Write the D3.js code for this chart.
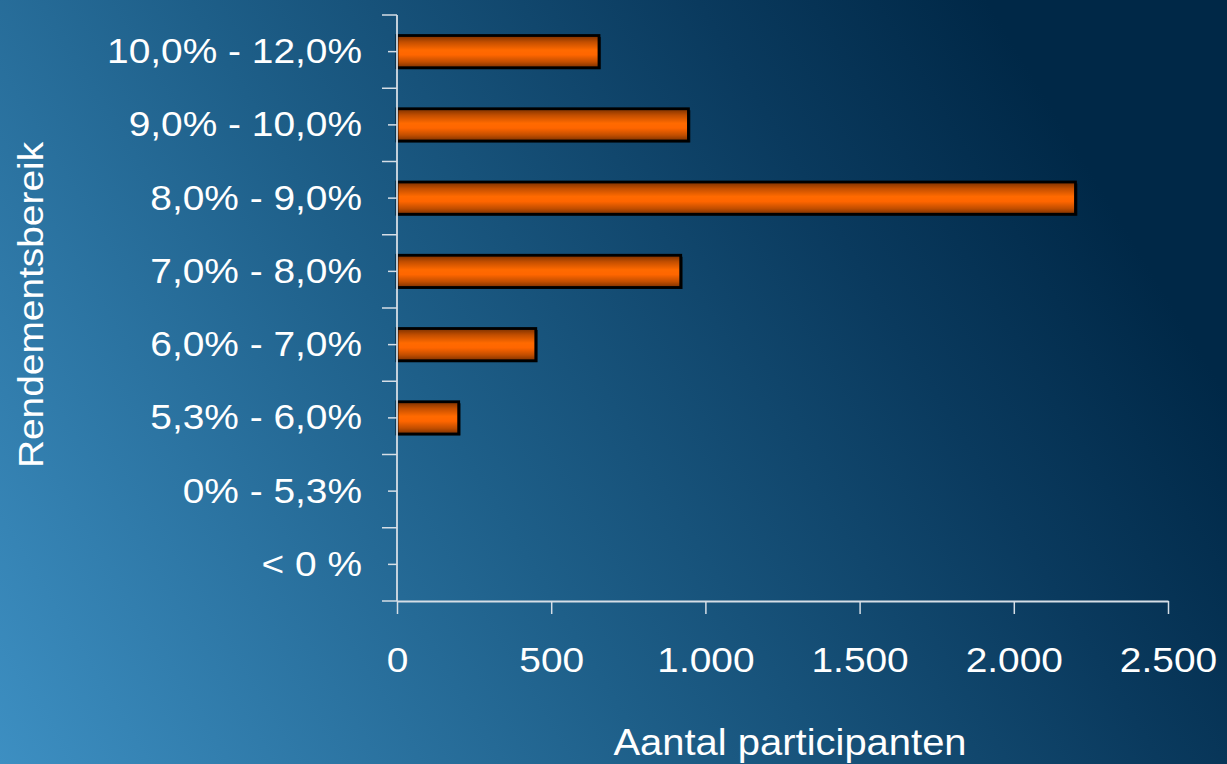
<!DOCTYPE html>
<html>
<head>
<meta charset="utf-8">
<script src="https://cdn.jsdelivr.net/npm/d3@7"></script>
<style>
  html, body { margin: 0; padding: 0; background: #00284a; }
  svg { display: block; }
  text { font-family: "Liberation Sans", Arial, sans-serif; fill: #ffffff; }
</style>
</head>
<body>
<svg id="chart"></svg>
<script>
var categories = ["10,0% - 12,0%", "9,0% - 10,0%", "8,0% - 9,0%", "7,0% - 8,0%",
                  "6,0% - 7,0%", "5,3% - 6,0%", "0% - 5,3%", "< 0 %"];
var participants = [655, 945, 2200, 920, 450, 200, 0, 0];
var xTicks = [0, 500, 1000, 1500, 2000, 2500];

var width = 1227;
var height = 764;
var margin = { top: 15, right: 59, bottom: 163, left: 397 };
var stretch = 1.08;

var svg = d3.select("#chart")
    .attr("width", width)
    .attr("height", height);

var defs = svg.append("defs");

var bg = defs.append("linearGradient")
    .attr("id", "bg")
    .attr("gradientUnits", "userSpaceOnUse")
    .attr("x1", 0).attr("y1", 764)
    .attr("x2", 1060).attr("y2", 120);
bg.append("stop").attr("offset", "0").attr("stop-color", "#3d8fc2");
bg.append("stop").attr("offset", "0.45").attr("stop-color", "#1e5f89");
bg.append("stop").attr("offset", "0.8").attr("stop-color", "#0a3a5e");
bg.append("stop").attr("offset", "1").attr("stop-color", "#002847");

var barGrad = defs.append("linearGradient")
    .attr("id", "bar")
    .attr("x1", 0).attr("y1", 0)
    .attr("x2", 0).attr("y2", 1);
barGrad.append("stop").attr("offset", "0").attr("stop-color", "#7a3000");
barGrad.append("stop").attr("offset", "0.2").attr("stop-color", "#c24e00");
barGrad.append("stop").attr("offset", "0.45").attr("stop-color", "#ff6a00");
barGrad.append("stop").attr("offset", "0.6").attr("stop-color", "#ff6600");
barGrad.append("stop").attr("offset", "0.82").attr("stop-color", "#c24e00");
barGrad.append("stop").attr("offset", "1").attr("stop-color", "#7a3000");

svg.append("rect")
    .attr("width", width)
    .attr("height", height)
    .attr("fill", "url(#bg)");

var x = d3.scaleLinear()
    .domain([0, 2500])
    .range([margin.left, width - margin.right]);

var y = d3.scaleBand()
    .domain(categories)
    .range([margin.top, height - margin.bottom])
    .paddingInner(0.56)
    .paddingOuter(0.28);

var nl = d3.formatLocale({ decimal: ",", thousands: ".", grouping: [3], currency: ["€", ""] });
var fmt = nl.format(",d");

// bars
var shown = categories.filter(function (d, i) { return participants[i] > 0; });
var bars = svg.append("g");
bars.selectAll("rect.shadow")
    .data(shown)
    .enter().append("rect")
    .attr("x", x(0) + 1)
    .attr("y", function (d) { return y(d) + 1.5; })
    .attr("width", function (d) { return x(participants[categories.indexOf(d)]) - x(0) + 1; })
    .attr("height", y.bandwidth())
    .attr("fill", "#000")
    .attr("opacity", 0.6);

bars.selectAll("rect.bar")
    .data(shown)
    .enter().append("rect")
    .attr("class", "bar")
    .attr("x", x(0))
    .attr("y", function (d) { return y(d); })
    .attr("width", function (d) { return x(participants[categories.indexOf(d)]) - x(0); })
    .attr("height", y.bandwidth())
    .attr("fill", "url(#bar)")
    .attr("stroke", "#000")
    .attr("stroke-width", 2.8);

var axisColor = "#d6dee6";

// y axis
var yAxis = svg.append("g")
    .attr("transform", "translate(" + margin.left + ",0)")
    .call(d3.axisLeft(y).tickSize(9).tickPadding(26));
yAxis.select(".domain").remove();
yAxis.selectAll(".tick line").attr("stroke", axisColor).attr("stroke-width", 1.5);
yAxis.selectAll(".tick text")
    .attr("font-size", 36)
    .attr("font-family", "Liberation Sans, Arial, sans-serif")
    .attr("fill", "#fff")
    .attr("x", -35 / stretch)
    .attr("transform", "scale(" + stretch + ",1)");

// category boundary ticks
var boundaries = categories.map(function (d) { return y(d) - y.step() * y.paddingInner() / 2; });
boundaries.push(y(categories[categories.length - 1]) + y.bandwidth() + y.step() * y.paddingInner() / 2);
svg.append("g").selectAll("line")
    .data(boundaries)
    .enter().append("line")
    .attr("x1", margin.left - 15)
    .attr("x2", margin.left)
    .attr("y1", function (d) { return d; })
    .attr("y2", function (d) { return d; })
    .attr("stroke", axisColor)
    .attr("stroke-width", 1.5);

svg.append("line")
    .attr("x1", margin.left).attr("x2", margin.left)
    .attr("y1", boundaries[0]).attr("y2", boundaries[boundaries.length - 1])
    .attr("stroke", axisColor)
    .attr("stroke-width", 1.8);

// x axis
var xAxis = svg.append("g")
    .attr("transform", "translate(0," + boundaries[boundaries.length - 1] + ")")
    .call(d3.axisBottom(x).tickValues(xTicks).tickFormat(fmt).tickSize(13).tickPadding(32).tickSizeOuter(0));
xAxis.select(".domain").attr("stroke", axisColor).attr("stroke-width", 1.8);
xAxis.selectAll(".tick line").attr("stroke", axisColor).attr("stroke-width", 1.5);
xAxis.selectAll(".tick text")
    .attr("font-size", 36)
    .attr("font-family", "Liberation Sans, Arial, sans-serif")
    .attr("fill", "#fff")
    .attr("transform", "scale(" + stretch + ",1)");

// axis titles
svg.append("text")
    .attr("transform", "translate(790,755) scale(" + stretch + ",1)")
    .attr("text-anchor", "middle")
    .attr("font-size", 37)
    .text("Aantal participanten");

svg.append("text")
    .attr("transform", "translate(43,305) rotate(-90) scale(" + stretch + ",1)")
    .attr("text-anchor", "middle")
    .attr("font-size", 36)
    .text("Rendementsbereik");
</script>
</body>
</html>
